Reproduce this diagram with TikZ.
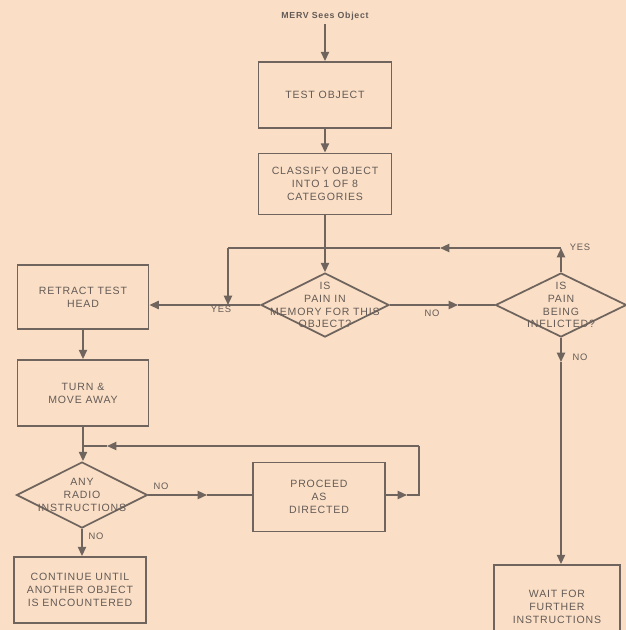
\documentclass[tikz,border=0pt]{standalone}
\usepackage{fontspec}
\setmainfont{Liberation Sans}[LetterSpace=8]
\usetikzlibrary{arrows.meta, shapes.geometric, positioning}
\definecolor{paper}{RGB}{250,223,198}
\definecolor{ink}{RGB}{112,100,94}
\definecolor{inktext}{RGB}{100,90,86}

\begin{document}
\begin{tikzpicture}[
  x=0.03cm, y=-0.03cm,
  box/.style={draw=ink, line width=1.5pt, align=center, text=inktext, font=\fontsize{9}{11}\selectfont},
  decision/.style={draw=ink, line width=1.5pt, diamond, inner sep=0pt},
  dtext/.style={align=center, text=inktext, font=\fontsize{9}{11}\selectfont},
  tag/.style={text=inktext, font=\fontsize{8}{9}\selectfont},
  flow/.style={draw=ink, line width=1.5pt},
  >={Triangle[length=8pt, width=7pt]},
]
\path[use as bounding box, fill=paper] (0,0) rectangle (626,630);
\clip (0,0) rectangle (626,630);

\node[text=inktext, font=\bfseries\fontsize{7.5}{9}\selectfont] (merv) at (325,16) {MERV Sees Object};
\node[box, minimum width=3.99cm, minimum height=1.98cm] (test)     at (325,95)  {TEST OBJECT};
\node[box, minimum width=3.99cm, minimum height=1.83cm] (classify) at (325,184) {CLASSIFY OBJECT\\INTO 1 OF 8\\CATEGORIES};
\node[decision, minimum width=3.84cm, minimum height=1.92cm] (memory)    at (325,305) {};
\node[decision, minimum width=3.93cm, minimum height=1.92cm] (inflicted) at (561,305) {};
\node[dtext] (memorytxt)    at (memory)    {IS\\PAIN IN\\MEMORY FOR THIS\\OBJECT?};
\node[dtext] (inflictedtxt) at (inflicted) {IS\\PAIN\\BEING\\INFLICTED?};
\node[box, minimum width=3.93cm, minimum height=1.92cm] (retract) at (83,297) {RETRACT TEST\\HEAD};
\node[box, minimum width=3.93cm, minimum height=1.98cm] (turn)    at (83,393) {TURN \&\\MOVE AWAY};
\node[decision, minimum width=3.93cm, minimum height=1.98cm] (radio) at (82,495) {};
\node[dtext] (radiotxt) at (radio) {ANY\\RADIO\\INSTRUCTIONS};
\node[box, minimum width=3.96cm, minimum height=2.07cm] (proceed) at (319,497) {PROCEED\\AS\\DIRECTED};
\node[box, minimum width=3.96cm, minimum height=1.98cm] (cont)    at (80,590)  {CONTINUE UNTIL\\ANOTHER OBJECT\\IS ENCOUNTERED};
\node[box, minimum width=3.78cm, minimum height=2.52cm] (wait)    at (557,607) {WAIT FOR\\FURTHER\\INSTRUCTIONS};

\coordinate (noarr)   at (458,305);
\coordinate (yup)     at (561,248);
\coordinate (yarr)    at (440,248);
\coordinate (ycorner) at (228,248);
\coordinate (yjoin)   at (228,305);
\coordinate (radarr)  at (207,495);
\coordinate (parr)    at (407,495);
\coordinate (pcorner) at (419,495);
\coordinate (ptop)    at (419,446);
\coordinate (larr)    at (107,446);
\coordinate (ljoin)   at (83,446);
\coordinate (darr)    at (561,362);

\draw[flow, ->] (merv) -- (test);
\draw[flow, ->] (test) -- (classify);
\draw[flow, ->] (classify) -- (memory);
\draw[flow, ->] (memory.west) -- (retract.east |- memory.west);
\draw[flow, ->] (memory.east) -- (noarr);
\draw[flow] (noarr) -- (inflicted.west);
\draw[flow, ->] (inflicted.north) -- (yup);
\draw[flow, ->] (yup) -- (yarr);
\draw[flow] (yarr) -- (ycorner);
\draw[flow, ->] (ycorner) -- (yjoin);
\draw[flow, ->] (inflicted.south) -- (darr);
\draw[flow, ->] (darr) -- (inflicted.south |- wait.north);
\draw[flow, ->] (retract) -- (retract.south |- turn.north);
\draw[flow, ->] (turn.south) -- (turn.south |- radio.north);
\draw[flow, ->] (radio.east) -- (radarr);
\draw[flow] (radarr) -- (proceed.west |- radarr);
\draw[flow, ->] (proceed.east |- parr) -- (parr);
\draw[flow] (parr) -- (pcorner) -- (ptop);
\draw[flow, ->] (ptop) -- (larr);
\draw[flow] (larr) -- (ljoin);
\draw[flow, ->] (radio.south) -- (radio.south |- cont.north);

\node[tag] (yesleft)  at (221,309) {YES};
\node[tag] (nomid)    at (432,313) {NO};
\node[tag] (yestop)   at (580,247) {YES};
\node[tag] (nodown)   at (580,357) {NO};
\node[tag] (noright)  at (161,486) {NO};
\node[tag] (nobelow)  at (96,536)  {NO};
\end{tikzpicture}
\end{document}
